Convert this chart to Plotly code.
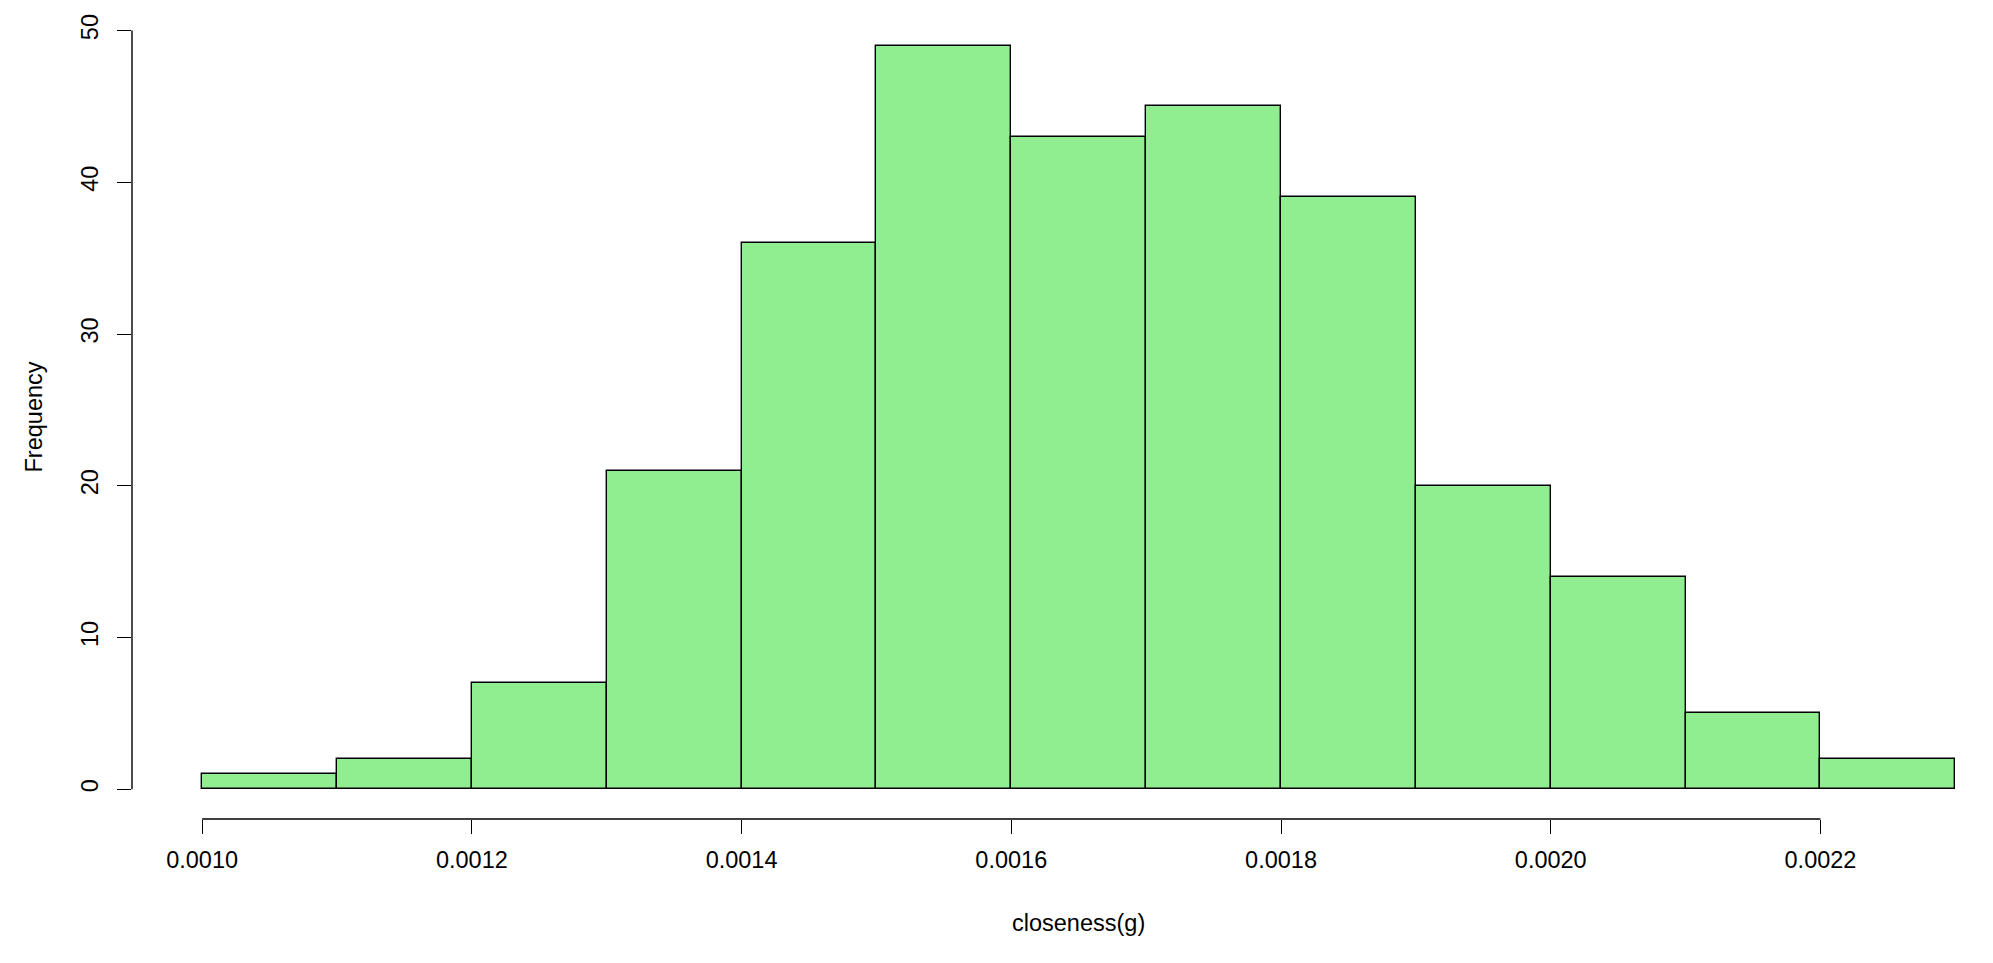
import plotly.graph_objects as go

# Histogram of closeness(g)
bin_left = [0.0010, 0.0011, 0.0012, 0.0013, 0.0014, 0.0015, 0.0016,
            0.0017, 0.0018, 0.0019, 0.0020, 0.0021, 0.0022]
bin_width = 0.0001
counts = [1, 2, 7, 21, 36, 49, 43, 45, 39, 20, 14, 5, 2]

x_ticks = [0.0010, 0.0012, 0.0014, 0.0016, 0.0018, 0.0020, 0.0022]
y_ticks = [0, 10, 20, 30, 40, 50]

x_label = "closeness(g)"
y_label = "Frequency"

FONT = "Liberation Sans, Arial, sans-serif"
FS = 23.5
fig = go.Figure()
fig.add_trace(go.Bar(
    x=bin_left, y=counts, width=bin_width, offset=0,
    marker=dict(color="#90EE90", line=dict(color="#000000", width=1.4)),
    hoverinfo="x+y",
))

# R-style plot region: data range extended by 4% on each side
span = bin_left[-1] + bin_width - bin_left[0]
xr = bin_left[0] - 0.04 * span
xr_full = (bin_left[-1] + bin_width) + 0.04 * span
ymax = max(counts)

fig.update_layout(
    width=1977, height=947,
    margin=dict(l=124, r=0, t=8, b=136, pad=0),
    paper_bgcolor="white", plot_bgcolor="white",
    font=dict(family=FONT, size=FS, color="#000000"),
    showlegend=False,
    bargap=0,
    xaxis=dict(
        range=[xr, 0.002322],
        tickvals=x_ticks, tickformat=".4f",
        ticks="outside", ticklen=14, tickwidth=1.4, tickcolor="#000000",
        showline=False, showgrid=False, zeroline=False,
        ticklabelstandoff=6,
    ),
    yaxis=dict(
        range=[-0.04 * ymax, ymax + 0.04 * ymax],
        tickvals=y_ticks, tickangle=-90,
        ticks="outside", ticklen=14, tickwidth=1.4, tickcolor="#000000",
        showline=False, showgrid=False, zeroline=False,
        ticklabelstandoff=10,
    ),
    shapes=[
        dict(type="line", xref="x", yref="paper", x0=x_ticks[0], x1=x_ticks[-1],
             y0=0, y1=0, line=dict(color="#000000", width=1.4)),
        dict(type="line", xref="paper", yref="y", x0=0, x1=0,
             y0=y_ticks[0], y1=y_ticks[-1], line=dict(color="#000000", width=1.4)),
    ],
    annotations=[
        dict(text=x_label, xref="x", yref="paper",
             x=(xr + xr_full) / 2, y=0, xanchor="center", yanchor="top",
             yshift=-89, showarrow=False, font=dict(family=FONT, size=FS)),
        dict(text=y_label, xref="paper", yref="paper",
             x=0, y=0.5, xanchor="center", yanchor="middle", textangle=-90,
             xshift=-99, showarrow=False, font=dict(family=FONT, size=FS)),
    ],
)

fig.write_html("out.html")
